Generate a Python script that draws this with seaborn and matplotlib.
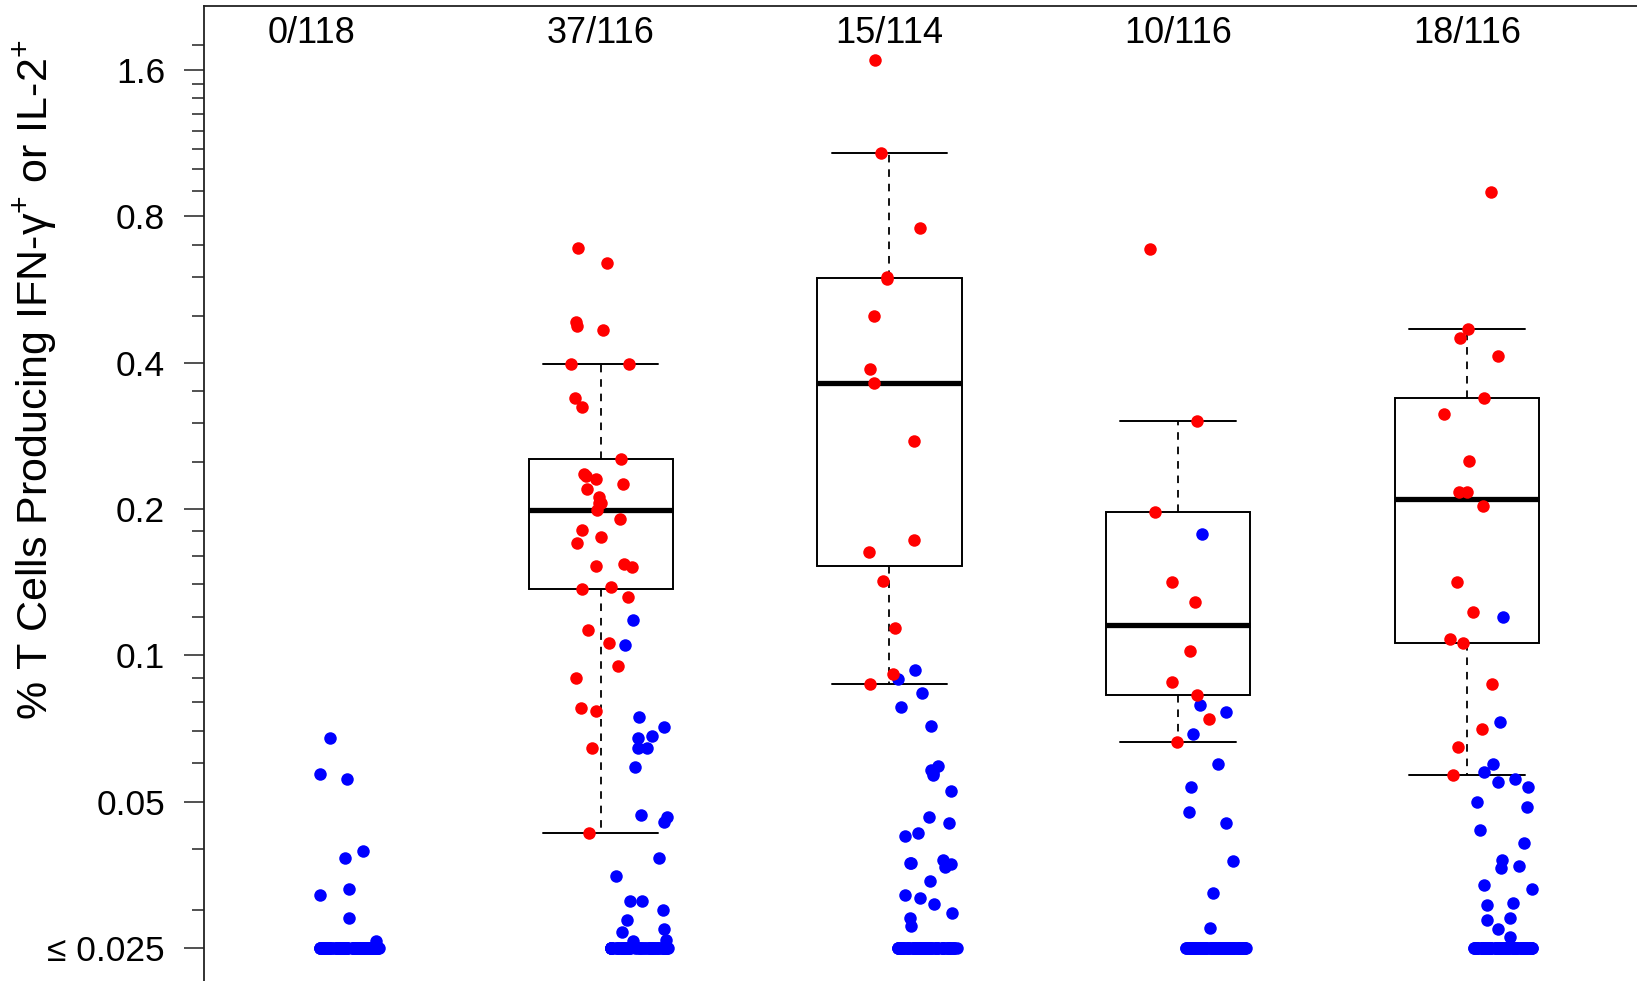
import numpy as np
import pandas as pd
import matplotlib
matplotlib.use("Agg")
import matplotlib.pyplot as plt
import matplotlib.transforms as mtransforms
from matplotlib.ticker import NullFormatter
import seaborn as sns

# Responders / subjects tested in each group (shown above each column)
responders = [0, 37, 15, 10, 18]
tested = [118, 116, 114, 116, 116]

# Lower limit of detection: values at or below it sit on this line
DETECTION_FLOOR = 0.025

# Responders: % T cells producing IFN-γ or IL-2
pos_g1 = []
pos_g2 = [0.688, 0.640, 0.484, 0.476, 0.467, 0.397, 0.397, 0.339, 0.324, 0.253,
          0.236, 0.234, 0.231, 0.225, 0.220, 0.212, 0.206, 0.206, 0.199, 0.191,
          0.181, 0.175, 0.170, 0.154, 0.153, 0.152, 0.138, 0.137, 0.132, 0.113,
          0.106, 0.095, 0.090, 0.078, 0.077, 0.0645, 0.0431]
pos_g3 = [1.677, 1.078, 0.756, 0.599, 0.594, 0.499, 0.388, 0.364, 0.276, 0.173,
          0.163, 0.1425, 0.114, 0.0916, 0.0874]
pos_g4 = [0.685, 0.3035, 0.197, 0.1414, 0.1287, 0.1023, 0.0881, 0.0827, 0.074, 0.0663]
pos_g5 = [0.899, 0.4685, 0.450, 0.413, 0.339, 0.313, 0.251, 0.2166, 0.2166, 0.203,
          0.1414, 0.1227, 0.108, 0.106, 0.0874, 0.0706, 0.0648, 0.0568]

# Non-responders measured above the detection floor (the rest are at the floor)
neg_g1 = [0.0675, 0.0571, 0.0558, 0.0395, 0.0383, 0.033, 0.0322, 0.0288, 0.0258]
neg_g2 = [0.118, 0.105, 0.0746, 0.0712, 0.0684, 0.0676, 0.0645, 0.0645, 0.0589, 0.0470,
          0.0466, 0.0455, 0.0383, 0.0351, 0.0312, 0.0312, 0.0300, 0.0286, 0.0273, 0.0270,
          0.0258, 0.0260]
neg_g3 = [0.0931, 0.0895, 0.0836, 0.0782, 0.0717, 0.0593, 0.0582, 0.0568, 0.0573, 0.0527,
          0.0466, 0.0452, 0.0431, 0.0426, 0.0374, 0.0367, 0.0374, 0.0380, 0.0373, 0.0343,
          0.0322, 0.0308, 0.0317, 0.0295, 0.0288, 0.0277]
neg_g4 = [0.178, 0.0789, 0.0764, 0.069, 0.0598, 0.0537, 0.0477, 0.0452, 0.0377, 0.0324,
          0.0275]
neg_g5 = [0.120, 0.0729, 0.0598, 0.0575, 0.0557, 0.0549, 0.0536, 0.0499, 0.0487, 0.0438,
          0.0411, 0.0380, 0.0368, 0.0365, 0.0337, 0.033, 0.0309, 0.0307, 0.0288, 0.0286,
          0.0273, 0.0264]

# Y axis ticks (log2 scale)
major_ticks = [0.025, 0.05, 0.1, 0.2, 0.4, 0.8, 1.6]
major_labels = ["≤ 0.025", "0.05", "0.1", "0.2", "0.4", "0.8", "1.6"]
minor_ticks = [0.03, 0.04, 0.06, 0.07, 0.08, 0.09, 0.12, 0.14, 0.16, 0.18,
               0.25, 0.3, 0.35, 0.5, 0.6, 0.7, 0.9, 1.0, 1.1, 1.2, 1.3, 1.4, 1.5, 1.8]

RED = "#FF0000"
BLUE = "#0000FF"
NEG_SHIFT = 0.13  # non-responders are drawn just right of the box

pos_values = [pos_g1, pos_g2, pos_g3, pos_g4, pos_g5]
neg_values = [neg_g1, neg_g2, neg_g3, neg_g4, neg_g5]
count_labels = [f"{r}/{n}" for r, n in zip(responders, tested)]

pos_rows, neg_rows = [], []
for i, (pv, nv, r, n) in enumerate(zip(pos_values, neg_values, responders, tested)):
    for v in pv:
        pos_rows.append({"pos": float(i), "value": v})
    n_floor = (n - r) - len(nv)
    for v in list(nv) + [DETECTION_FLOOR] * n_floor:
        neg_rows.append({"pos": i + NEG_SHIFT, "value": v})
pos_df = pd.DataFrame(pos_rows)
neg_df = pd.DataFrame(neg_rows)


def tukey_stats(values, coef=1.5):
    """Box statistics with Tukey hinges and 1.5*IQR whiskers."""
    v = np.sort(np.asarray(values, dtype=float))
    n = len(v)
    n4 = np.floor((n + 3) / 2) / 2
    d = np.array([1, n4, (n + 1) / 2, n + 1 - n4, n]) - 1
    five = 0.5 * (v[np.floor(d).astype(int)] + v[np.ceil(d).astype(int)])
    iqr = five[3] - five[1]
    lo = v[v >= five[1] - coef * iqr].min()
    hi = v[v <= five[3] + coef * iqr].max()
    return {"med": five[2], "q1": five[1], "q3": five[3],
            "whislo": lo, "whishi": hi, "fliers": []}


sns.set_style("ticks")
plt.rcParams["font.family"] = ["Liberation Sans", "DejaVu Sans"]
plt.rcParams["mathtext.fontset"] = "custom"
plt.rcParams["mathtext.rm"] = "Liberation Sans"
plt.rcParams["mathtext.it"] = "Liberation Sans:italic"
plt.rcParams["mathtext.bf"] = "Liberation Sans:bold"

fig = plt.figure(figsize=(16.37, 9.81), dpi=100)
fig.patch.set_facecolor("white")
ax = fig.add_axes([204 / 1637, 0.0, (1645 - 204) / 1637, (981 - 6) / 981])
ax.set_facecolor("white")

np.random.seed(11)
sns.stripplot(data=neg_df, x="pos", y="value", native_scale=True, orient="x",
              jitter=0.105, color=BLUE, size=9, linewidth=0, ax=ax, zorder=3)
sns.stripplot(data=pos_df, x="pos", y="value", native_scale=True, orient="x",
              jitter=0.11, color=RED, size=9, linewidth=0, ax=ax, zorder=4)

box_positions = [i for i, v in enumerate(pos_values) if len(v)]
box_stats = [tukey_stats(pos_values[i]) for i in box_positions]
ax.bxp(box_stats, positions=box_positions, widths=0.5, capwidths=0.4,
       showfliers=False, patch_artist=True, manage_ticks=False, zorder=2,
       boxprops=dict(facecolor="white", edgecolor="black", linewidth=1.4),
       medianprops=dict(color="black", linewidth=3.8, solid_capstyle="butt"),
       whiskerprops=dict(color="black", linewidth=1.3, linestyle=(0, (4.2, 3.8))),
       capprops=dict(color="black", linewidth=1.4))

ax.set_yscale("log", base=2)
ax.set_ylim(0.02139, 2.1665)
ax.set_xlim(-0.374, 4.617)
ax.set_yticks(major_ticks, labels=major_labels)
ax.set_yticks(minor_ticks, minor=True)
ax.yaxis.set_minor_formatter(NullFormatter())
ax.tick_params(axis="y", which="major", length=14.4, width=1.1, labelsize=25.5,
               pad=13.7, color="#222222", labelcolor="black")
ax.tick_params(axis="y", which="minor", length=8.6, width=1.1, color="#222222")
ax.tick_params(axis="x", bottom=False, labelbottom=False)
ax.set_xlabel("")
ax.set_ylabel("")

for side in ("right", "bottom"):
    ax.spines[side].set_visible(False)
for side in ("left", "top"):
    ax.spines[side].set_linewidth(1.3)
    ax.spines[side].set_color("#222222")

# Responder counts above each column
trans = mtransforms.blended_transform_factory(ax.transData, ax.transAxes)
for i, lab in enumerate(count_labels):
    ax.text(i, 0.9617, lab, transform=trans, ha="center", va="baseline",
            fontsize=26, color="black")

fig.text(47.7 / 1637, 1 - 380 / 981,
         "% T Cells Producing IFN-γ$^{+}$ or IL-2$^{+}$",
         rotation=90, rotation_mode="anchor", ha="center", va="baseline",
         fontsize=31, color="black")

fig.savefig("out.png", dpi=100, facecolor="white")
